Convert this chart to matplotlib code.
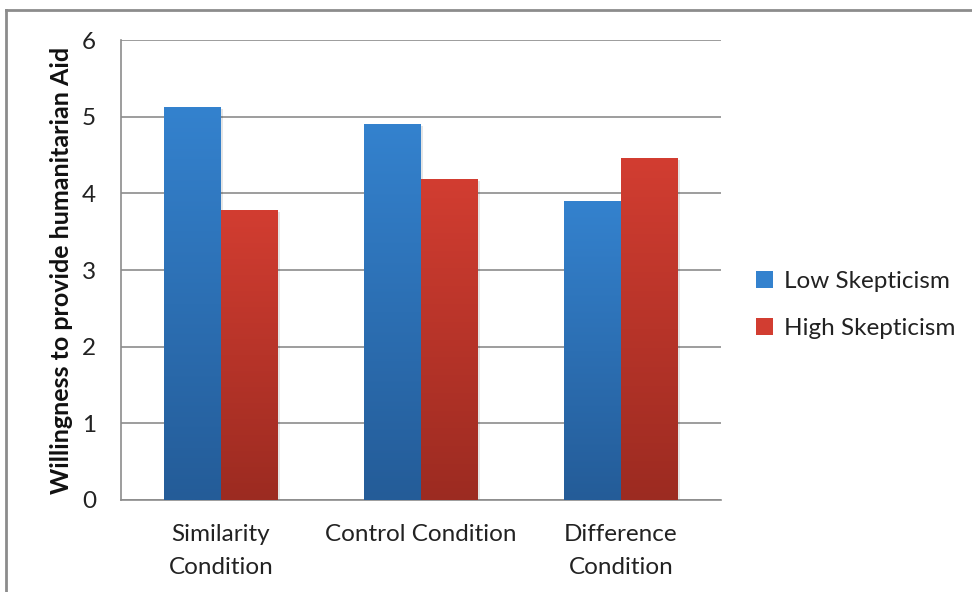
import matplotlib
matplotlib.use("Agg")
import matplotlib.pyplot as plt
import numpy as np
from matplotlib.colors import LinearSegmentedColormap
from matplotlib.patches import Patch, Rectangle

categories = ["Similarity\nCondition", "Control Condition", "Difference\nCondition"]
series_names = ["Low Skepticism", "High Skepticism"]
low_skepticism = [5.12, 4.90, 3.90]
high_skepticism = [3.78, 4.18, 4.46]
y_ticks = [0, 1, 2, 3, 4, 5, 6]

blue_top, blue_bot = "#3482ce", "#245c98"
red_top, red_bot = "#d23d31", "#9c2b21"

plt.rcParams['font.family'] = ['Lato', 'DejaVu Sans']

fig = plt.figure(figsize=(9.72, 5.92), dpi=100)
W, H = 972, 592
ax = fig.add_axes([121 / W, 1 - 500 / H, 600 / W, 460 / H])

x = np.arange(len(categories))
bw = 0.285
bars_low = ax.bar(x - bw / 2, low_skepticism, bw, color="none", zorder=3)
bars_high = ax.bar(x + bw / 2, high_skepticism, bw, color="none", zorder=3)

grad = np.linspace(0, 1, 256).reshape(-1, 1)
for bars, top, bot in [(bars_low, blue_top, blue_bot), (bars_high, red_top, red_bot)]:
    cmap = LinearSegmentedColormap.from_list("g", [bot, top])
    for b in bars:
        x0, y0 = b.get_x(), b.get_y()
        w, h = b.get_width(), b.get_height()
        ax.add_patch(Rectangle((x0 + 0.01, y0), w, h - 0.02, color="#000000", alpha=0.10, zorder=2.5, lw=0))
        ax.imshow(grad, cmap=cmap, origin="lower", aspect="auto",
                  extent=(x0, x0 + w, y0, y0 + h), zorder=3)

ax.set_xlim(-0.5, 2.5)
ax.set_ylim(0, 6)
ax.set_yticks(y_ticks)
ax.set_xticks(x)
ax.set_xticklabels(categories, fontsize=17.5, color="#222222", linespacing=1.7)
ax.tick_params(axis="both", length=0, labelsize=17.5, colors="#222222")
ax.tick_params(axis="y", pad=18)
ax.tick_params(axis="x", pad=17)
ax.yaxis.grid(True, color="#8c8c8c", lw=1.2, zorder=1)
ax.set_axisbelow(True)
for s in ["top", "right"]:
    ax.spines[s].set_visible(False)
for s in ["left", "bottom"]:
    ax.spines[s].set_color("#8c8c8c")
    ax.spines[s].set_linewidth(1.2)

ax.set_ylabel("Willingness to provide humanitarian Aid", fontsize=18, fontweight="bold",
              color="#111111")
ax.yaxis.set_label_coords(-0.08, 0.5)

handles = [Patch(facecolor=blue_top, edgecolor="none"), Patch(facecolor=red_top, edgecolor="none")]
fig.legend(handles, series_names, loc="center left", bbox_to_anchor=(734 / W, 1 - 305 / H),
           frameon=False, fontsize=17.5, handlelength=0.7, handleheight=0.7,
           handletextpad=0.45, labelspacing=1.05, labelcolor="#222222")

fig.add_artist(plt.Line2D([6 / W, 6 / W], [0, 1 - 10 / H], transform=fig.transFigure, color="#8c8c8c", lw=2))
fig.add_artist(plt.Line2D([6 / W, 1], [1 - 10 / H, 1 - 10 / H], transform=fig.transFigure, color="#8c8c8c", lw=2))

fig.savefig("out.png", dpi=100)
